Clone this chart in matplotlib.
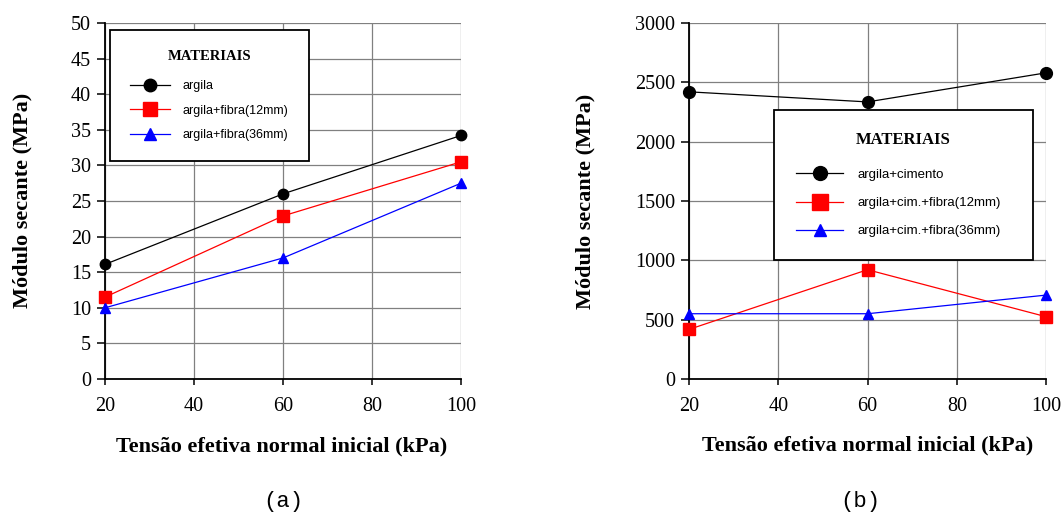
import matplotlib
matplotlib.use("Agg")
import matplotlib.pyplot as plt
from matplotlib.lines import Line2D

# ---- data ----
tensao = [20, 60, 100]
legend_title = "MATERIAIS"

labels_a = ["argila", "argila+fibra(12mm)", "argila+fibra(36mm)"]
argila = [16.1, 26.0, 34.2]
argila_f12 = [11.5, 22.9, 30.5]
argila_f36 = [10.0, 17.0, 27.5]

labels_b = ["argila+cimento", "argila+cim.+fibra(12mm)", "argila+cim.+fibra(36mm)"]
cimento = [2420, 2335, 2580]
cim_f12 = [418, 921, 525]
cim_f36 = [550, 550, 707]

xticks = [20, 40, 60, 80, 100]
yticks_a = [0, 5, 10, 15, 20, 25, 30, 35, 40, 45, 50]
yticks_b = [0, 500, 1000, 1500, 2000, 2500, 3000]

ylabel = "Módulo secante (MPa)"
xlabel = "Tensão efetiva normal inicial (kPa)"

W, H = 1063, 512
fig = plt.figure(figsize=(W / 100, H / 100), dpi=100)
fig.patch.set_facecolor("white")

SERIF = "Liberation Serif"
SANS = "Liberation Sans"
MONO = "Liberation Mono"

colors = ["black", "#ff0000", "#0000ff"]
markers = ["o", "s", "^"]


def px_ax(l, r, t, b):
    return [l / W, 1 - b / H, (r - l) / W, (b - t) / H]


def style_axes(ax, yticks, ymax):
    ax.set_xlim(20, 100)
    ax.set_ylim(0, ymax)
    ax.set_xticks(xticks)
    ax.set_yticks(yticks)
    ax.grid(True, color="#808080", linewidth=0.9)
    ax.set_axisbelow(True)
    for s in ["top", "right"]:
        ax.spines[s].set_visible(False)
    for s in ["left", "bottom"]:
        ax.spines[s].set_linewidth(1.3)
        ax.spines[s].set_color("black")
    ax.tick_params(axis="y", direction="out", length=6, width=1.1, pad=4,
                   labelsize=14.5)
    ax.tick_params(axis="x", direction="out", length=4, width=1.1, pad=9,
                   labelsize=14.5)
    for t in ax.get_xticklabels() + ax.get_yticklabels():
        t.set_fontfamily(SERIF)


# ---- panel (a) ----
ax1 = fig.add_axes(px_ax(105, 461, 23, 379))
series_a = [argila, argila_f12, argila_f36]
msz_a = [7.5, 8, 7]
for ys, c, m, ms in zip(series_a, colors, markers, msz_a):
    ax1.plot(tensao, ys, color=c, marker=m, markersize=ms, linewidth=0.9,
             clip_on=False, zorder=3)
style_axes(ax1, yticks_a, 50)

handles_a = [Line2D([], [], color=c, marker=m, markersize=s, linewidth=0.9)
             for c, m, s in zip(colors, markers, [9, 10.5, 8])]
leg1 = ax1.legend(handles_a, labels_a, title=legend_title, loc="upper left",
                  bbox_to_anchor=(110 / W, 1 - 162 / H, 199 / W, 132 / H),
                  bbox_transform=fig.transFigure, mode="expand",
                  prop={"family": SANS, "size": 9},
                  title_fontproperties={"family": SERIF, "weight": "bold", "size": 10.5},
                  frameon=True, fancybox=False, edgecolor="black",
                  framealpha=1, borderpad=1.6, labelspacing=1.0,
                  handlelength=3.2, handletextpad=1.0, borderaxespad=0)
leg1.get_frame().set_linewidth(1.3)
leg1.set_zorder(5)
leg1._legend_box.sep = 12.5

# ---- panel (b) ----
ax2 = fig.add_axes(px_ax(689, 1046, 23, 379))
series_b = [cimento, cim_f12, cim_f36]
msz_b = [8.5, 9, 7.5]
for ys, c, m, ms in zip(series_b, colors, markers, msz_b):
    ax2.plot(tensao, ys, color=c, marker=m, markersize=ms, linewidth=0.9,
             clip_on=False, zorder=3)
style_axes(ax2, yticks_b, 3000)

handles_b = [Line2D([], [], color=c, marker=m, markersize=s, linewidth=0.9)
             for c, m, s in zip(colors, markers, [10, 11.5, 9])]
leg2 = ax2.legend(handles_b, labels_b, title=legend_title, loc="upper left",
                  bbox_to_anchor=(774 / W, 1 - 260 / H, 259 / W, 150 / H),
                  bbox_transform=fig.transFigure, mode="expand",
                  prop={"family": SANS, "size": 9.5},
                  title_fontproperties={"family": SERIF, "weight": "bold", "size": 12},
                  frameon=True, fancybox=False, edgecolor="black",
                  framealpha=1, borderpad=1.7, labelspacing=1.22,
                  handlelength=3.5, handletextpad=1.1, borderaxespad=0)
leg2.get_frame().set_linewidth(1.3)
leg2.set_zorder(5)
leg2._legend_box.sep = 14.5

# ---- labels ----
fig.text(22 / W, 1 - 200 / H, ylabel, rotation=90, ha="center", va="center",
         family=SERIF, weight="bold", fontsize=16)
fig.text(585 / W, 1 - 201 / H, ylabel, rotation=90, ha="center", va="center",
         family=SERIF, weight="bold", fontsize=16)
fig.text(282 / W, 1 - 446 / H, xlabel, ha="center", va="center",
         family=SERIF, weight="bold", fontsize=16)
fig.text(868 / W, 1 - 445 / H, xlabel, ha="center", va="center",
         family=SERIF, weight="bold", fontsize=16)
fig.text(283 / W, 1 - 501 / H, "(a)", ha="center", va="center",
         family=MONO, fontsize=16)
fig.text(860 / W, 1 - 501 / H, "(b)", ha="center", va="center",
         family=MONO, fontsize=16)

fig.savefig("out.png", dpi=100)
